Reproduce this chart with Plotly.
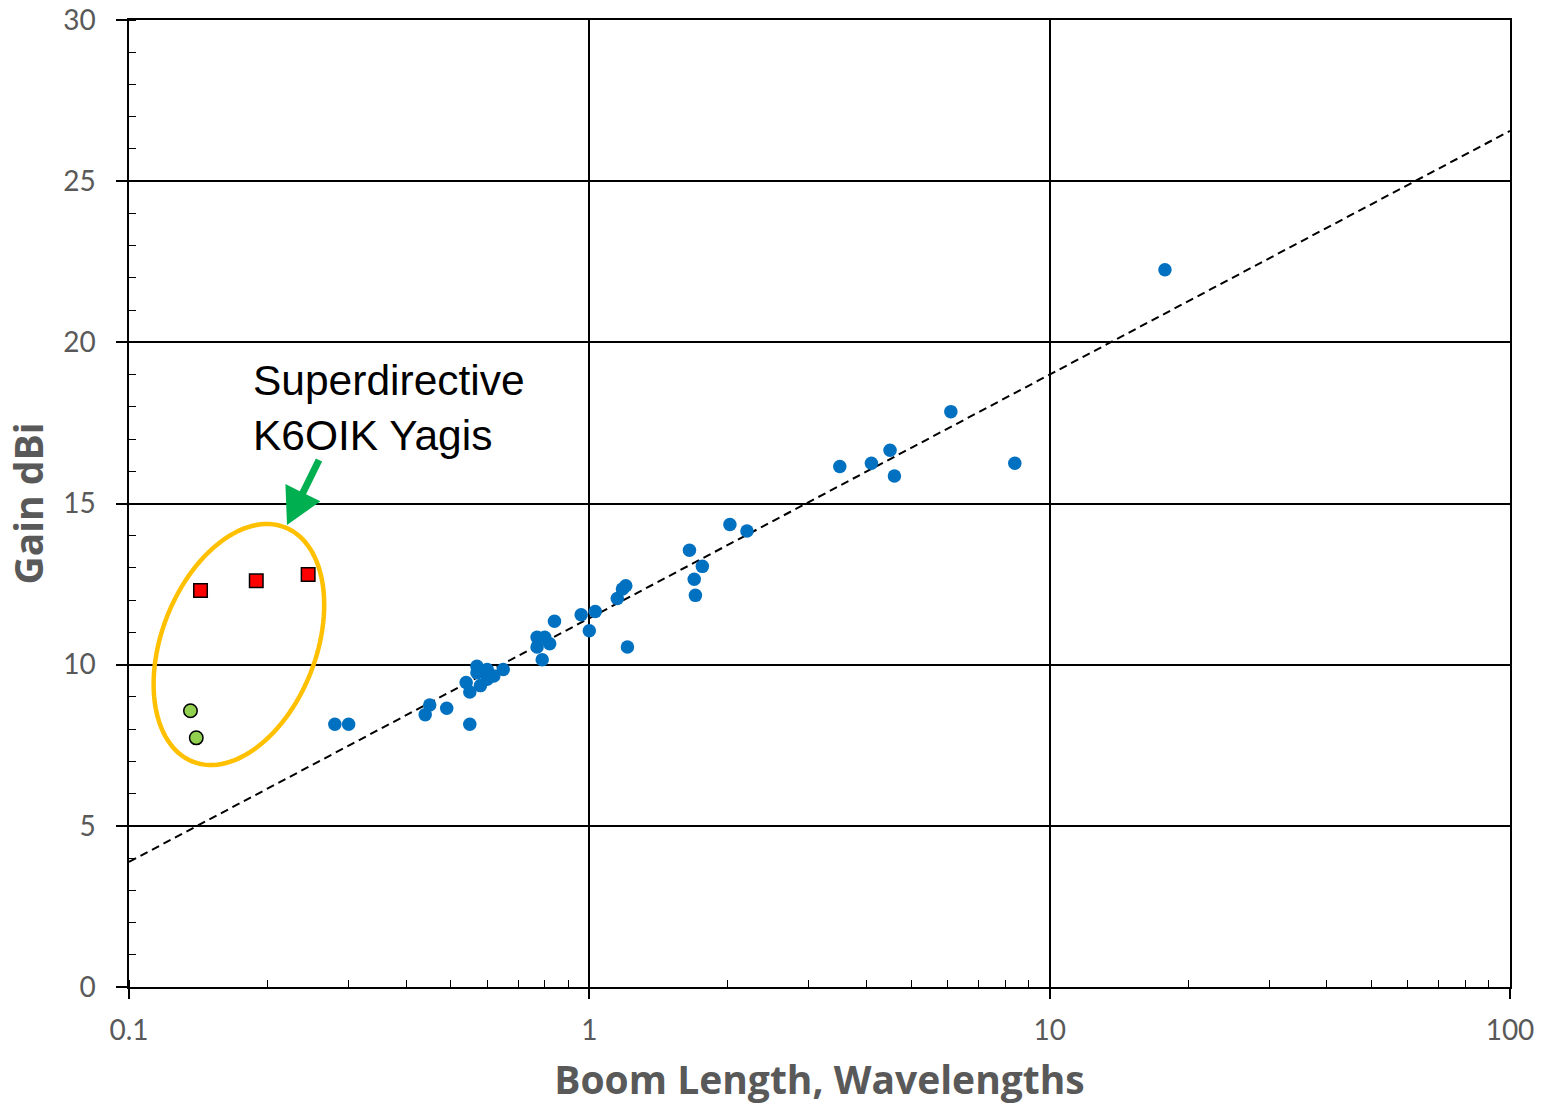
import math
import plotly.graph_objects as go

# Conventional Yagi designs: boom length (wavelengths) vs gain (dBi)
yagi_boom = [0.28, 0.30, 0.45, 0.44, 0.49, 0.55, 0.54, 0.55, 0.57, 0.57,
             0.60, 0.58, 0.60, 0.62, 0.65, 0.77, 0.80, 0.77, 0.82, 0.79,
             0.84, 0.96, 1.03, 1.00, 1.21, 1.15, 1.18, 1.20, 1.65, 1.76,
             1.69, 1.70, 2.02, 2.20, 3.50, 4.10, 4.50, 4.60, 8.40, 6.10,
             17.8]
yagi_gain = [8.15, 8.15, 8.75, 8.45, 8.65, 8.15, 9.45, 9.15, 9.95, 9.75,
             9.85, 9.35, 9.55, 9.65, 9.85, 10.85, 10.85, 10.55, 10.65, 10.15,
             11.35, 11.55, 11.65, 11.05, 10.55, 12.05, 12.35, 12.45, 13.55, 13.05,
             12.65, 12.15, 14.35, 14.15, 16.15, 16.25, 16.65, 15.85, 16.25, 17.85,
             22.25]

# Superdirective K6OIK Yagis
k6oik_boom = [0.143, 0.189, 0.245]
k6oik_gain = [12.3, 12.6, 12.8]
small_boom = [0.136, 0.140]
small_gain = [8.57, 7.73]

# Logarithmic trendline: gain = TREND_B + TREND_M * log10(boom)
TREND_M = 7.56
TREND_B = 11.44
trend_x = [0.1, 100]

X_TICKS = [0.1, 1, 10, 100]
X_LABELS = ["0.1", "1", "10", "100"]
Y_TICKS = [0, 5, 10, 15, 20, 25, 30]

# Page / plot geometry (pixels)
W, H = 1549, 1109
ML, MR, MT, MB = 129, 39, 20, 122
PW, PH = W - ML - MR, H - MT - MB


def to_paper(px, py):
    return (px - ML) / PW, (H - MB - py) / PH


def path_from(points):
    pts = [to_paper(*p) for p in points]
    s = "M {:.5f},{:.5f}".format(*pts[0])
    for x, y in pts[1:]:
        s += " L {:.5f},{:.5f}".format(x, y)
    return s + " Z"


# Highlight ellipse around the superdirective designs
cx, cy, a, b, theta = 238.9, 644.5, 125.9, 77.1, math.radians(68.5)
ellipse_pts = []
for i in range(120):
    t = 2 * math.pi * i / 120
    dx = a * math.cos(t) * math.cos(theta) - b * math.sin(t) * math.sin(theta)
    dy = a * math.cos(t) * math.sin(theta) + b * math.sin(t) * math.cos(theta)
    ellipse_pts.append((cx + dx, cy - dy))

# Block arrow pointing at the ellipse
tail, tip = (319.0, 460.0), (287.0, 525.0)
shaft_hw, head_hw, head_len = 3.5, 19.5, 36.0
vx, vy = tip[0] - tail[0], tip[1] - tail[1]
L = math.hypot(vx, vy)
ux, uy = vx / L, vy / L
nx, ny = -uy, ux
bx, by = tip[0] - head_len * ux, tip[1] - head_len * uy
arrow_pts = [
    (tail[0] + shaft_hw * nx, tail[1] + shaft_hw * ny),
    (bx + shaft_hw * nx, by + shaft_hw * ny),
    (bx + head_hw * nx, by + head_hw * ny),
    tip,
    (bx - head_hw * nx, by - head_hw * ny),
    (bx - shaft_hw * nx, by - shaft_hw * ny),
    (tail[0] - shaft_hw * nx, tail[1] - shaft_hw * ny),
]

fig = go.Figure()

fig.add_trace(go.Scatter(
    x=trend_x, y=[TREND_B + TREND_M * math.log10(v) for v in trend_x],
    mode="lines", line=dict(color="black", width=2, dash="8px,5px"),
    hoverinfo="skip", showlegend=False))

fig.add_trace(go.Scatter(
    x=yagi_boom, y=yagi_gain, mode="markers",
    marker=dict(color="#0070C0", size=13.5, line=dict(width=0)),
    showlegend=False))

fig.add_trace(go.Scatter(
    x=k6oik_boom, y=k6oik_gain, mode="markers",
    marker=dict(symbol="square", color="#FF0000", size=13.5,
                line=dict(color="black", width=1.5)),
    showlegend=False))

fig.add_trace(go.Scatter(
    x=small_boom, y=small_gain, mode="markers",
    marker=dict(symbol="circle", color="#92D050", size=13.5,
                line=dict(color="black", width=1.5)),
    showlegend=False))

fig.add_shape(type="path", xref="paper", yref="paper",
              path=path_from(ellipse_pts),
              line=dict(color="#FFC000", width=4.5), fillcolor="rgba(0,0,0,0)",
              layer="above")
fig.add_shape(type="path", xref="paper", yref="paper",
              path=path_from(arrow_pts),
              line=dict(color="#00B050", width=0), fillcolor="#00B050",
              layer="above")

tx, ty = to_paper(251, 355)
fig.add_annotation(text="Superdirective<br>K6OIK Yagis", xref="paper", yref="paper",
                   x=tx, y=ty, xanchor="left", yanchor="top", align="left",
                   showarrow=False,
                   font=dict(family="Liberation Sans, Arial", size=42.5, color="black"))

tick_font = dict(family="Lato", size=28, color="#595959")
title_font = dict(family="Open Sans", size=39, color="#595959", weight="bold")

fig.update_xaxes(
    type="log", range=[-1, 2], tickvals=X_TICKS, ticktext=X_LABELS,
    ticks="outside", ticklen=10, tickwidth=1.5, tickcolor="black",
    ticklabelstandoff=8,
    showgrid=True, gridcolor="black", gridwidth=1.5,
    showline=True, linecolor="black", linewidth=1.5, mirror=True,
    minor=dict(ticks="inside", ticklen=7, tickwidth=1.2, tickcolor="black",
               dtick="D1", showgrid=False),
    tickfont=tick_font, zeroline=False, automargin=False,
    title=dict(text="Boom Length, Wavelengths", font=title_font, standoff=21))

fig.update_yaxes(
    range=[0, 30], tickvals=Y_TICKS,
    ticks="outside", ticklen=11, tickwidth=1.5, tickcolor="black",
    ticklabelstandoff=15,
    showgrid=True, gridcolor="black", gridwidth=1.5,
    showline=True, linecolor="black", linewidth=1.5, mirror=True,
    minor=dict(ticks="inside", ticklen=7, tickwidth=1.2, tickcolor="black",
               dtick=1, showgrid=False),
    tickfont=tick_font, zeroline=False, automargin=False,
    title=dict(text="Gain dBi", font=title_font, standoff=8))

fig.update_layout(
    width=W, height=H,
    margin=dict(l=ML, r=MR, t=MT, b=MB, pad=0, autoexpand=False),
    paper_bgcolor="white", plot_bgcolor="white",
    showlegend=False)

fig.write_html("out.html")
